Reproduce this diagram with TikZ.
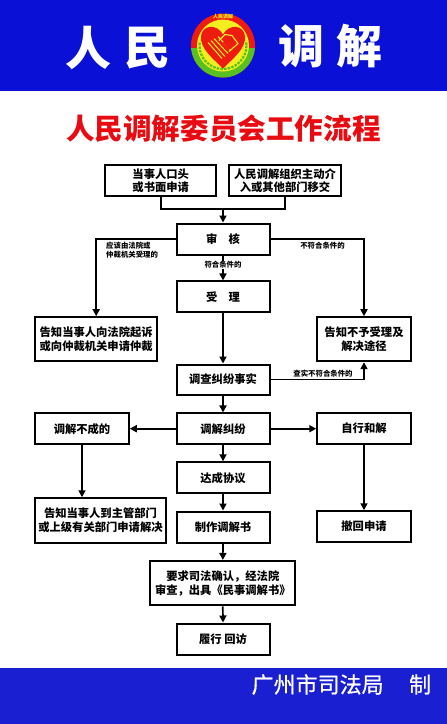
\documentclass[tikz,border=0pt]{standalone}
\usepackage{fontspec}
\setmainfont{Noto Sans CJK SC}
\usetikzlibrary{arrows.meta,calc}
\definecolor{hdrblue}{HTML}{0A10D6}
\definecolor{ftrblue}{HTML}{1A20D2}
\definecolor{ttlred}{HTML}{E80C12}
\definecolor{lgred}{HTML}{EE1C10}
\definecolor{lggreen}{HTML}{58C020}
\definecolor{lgyellow}{HTML}{F2EE20}
\tikzset{
  bx/.style={draw=black,line width=2pt,fill=white,align=center,inner sep=0pt,
    font=\bfseries\fontsize{11.3}{13.6}\selectfont},
  conn/.style={line width=1.7pt,draw=black},
  arr/.style={conn,-{Triangle[length=7pt,width=7pt]}},
  lbl/.style={font=\bfseries\fontsize{7.4}{8.6}\selectfont,inner sep=0.5pt},
  big/.style={white,font=\bfseries\fontsize{46}{46}\selectfont,inner sep=0pt},
}
\begin{document}
\begin{tikzpicture}[x=1pt,y=-1pt]
\useasboundingbox (0,0) rectangle (447,724);
\fill[white] (0,0) rectangle (447,724);
\fill[hdrblue] (0,0) rectangle (447,90.5);
\fill[ftrblue] (0,668) rectangle (447,724);

% header text
\node[big] (h1) at (88.5,47.5) {人};
\node[big] (h2) at (147.5,48) {民};
\node[big] (h3) at (301.5,46) {调};
\node[big] (h4) at (359.5,46) {解};

% emblem
\begin{scope}[shift={(223,45.5)}]
  \fill[lgred] (0,0) circle (32);
  \begin{scope}
    \clip (-33,3) rectangle (33,33);
    \fill[lggreen] (0,0) circle (32);
  \end{scope}
  \fill[lgyellow] (0,0) circle (26);
  \begin{scope}
    \clip (-27,-3) rectangle (27,27);
    \draw[lggreen,line width=2.2pt,dash pattern=on 2.5pt off 1.2pt] (0,0) circle (23.5);
  \end{scope}
  \fill[lgred] (0,23) .. controls (-10,13) and (-23,3) .. (-22,-9)
     .. controls (-21,-21) and (-6,-22) .. (0,-11)
     .. controls (6,-22) and (21,-21) .. (22,-9)
     .. controls (23,3) and (10,13) .. (0,23) -- cycle;
  \draw[lgyellow,line width=1pt] (-15,-3) -- (-1,13) (-12,-5) -- (2,11) (-9,-7) -- (5,8) (-5,-9) -- (8,5);
  \draw[lgyellow,line width=1.1pt] (-4,-5) -- (2,-11) -- (9,-10) -- (15,-2) -- (6,6);
  \fill[lgred] (5,-8) -- (13,-2) -- (6,4) -- (0,-3) -- cycle;
  \node[lgyellow,font=\bfseries\fontsize{5}{5}\selectfont,inner sep=0pt] (emb) at (0,-28.5) {人民调解};
\end{scope}

% title
\node[ttlred,font=\bfseries\fontsize{28.6}{30}\selectfont,inner sep=0pt] (title) at (223.5,128.5) {人民调解委员会工作流程};

% boxes
\node[bx,minimum width=111,minimum height=31] (a1) at (160.7,180.7) {当事人口头\\或书面申请};
\node[bx,minimum width=112,minimum height=31] (a2) at (285,180.7) {人民调解组织主动介\\入或其他部门移交};
\node[bx,minimum width=93,minimum height=31] (sh) at (223,239) {审　核};
\node[bx,minimum width=93,minimum height=30.5] (sl) at (223,296.7) {受　理};
\node[bx,minimum width=122,minimum height=44] (gz) at (96.2,339.2) {告知当事人向法院起诉\\或向仲裁机关申请仲裁};
\node[bx,minimum width=93.5,minimum height=44] (gb) at (364,339.2) {告知不予受理及\\解决途径};
\node[bx,minimum width=93,minimum height=30] (dc) at (223,379.5) {调查纠纷事实};
\node[bx,minimum width=93,minimum height=30.5] (tj) at (223,428.7) {调解纠纷};
\node[bx,minimum width=93.5,minimum height=30.5] (bc) at (82,428.7) {调解不成的};
\node[bx,minimum width=93.5,minimum height=30.5] (zx) at (364,428.7) {自行和解};
\node[bx,minimum width=93,minimum height=31] (dx) at (223,477.8) {达成协议};
\node[bx,minimum width=130.5,minimum height=44.5] (gs) at (100.5,520.5) {告知当事人到主管部门\\或上级有关部门申请解决};
\node[bx,minimum width=93,minimum height=31] (zz) at (223,527) {制作调解书};
\node[bx,minimum width=93.5,minimum height=30.5] (ch) at (364,526.5) {撤回申请};
\node[bx,minimum width=145,minimum height=44.5] (yq) at (222.8,583.2) {要求司法确认，经法院\\审查，出具《民事调解书》};
\node[bx,minimum width=93,minimum height=31] (lx) at (223,639) {履行 回访};

% footer
\node[white,font=\addfontfeature{FakeBold=0.6}\fontsize{22}{22}\selectfont,inner sep=0pt,anchor=west] (ft1) at (251.5,684.5) {广州市司法局};
\node[white,font=\addfontfeature{FakeBold=0.6}\fontsize{22}{22}\selectfont,inner sep=0pt,anchor=west] (ft2) at (409,684.5) {制};

% connectors
\coordinate (m) at (sh.north |- 0,209);
\draw[conn] (a1.south) |- (m);
\draw[conn] (a2.south) |- (m);
\draw[arr] (m) -- (sh.north);
\draw[arr] (sh.west) -| (gz.north);
\draw[arr] (sh.east) -| (gb.north);
\draw[arr] (sh.south) -- (sl.north);
\draw[arr] (sl.south) -- (dc.north);
\draw[arr] (dc.east) -| (gb.south);
\draw[arr] (dc.south) -- (tj.north);
\draw[arr] (tj.west) -- (bc.east);
\draw[arr] (tj.east) -- (zx.west);
\draw[arr] (tj.south) -- (dx.north);
\draw[arr] (bc.south) -- (bc.south |- gs.north);
\draw[arr] (zx.south) -- (ch.north);
\draw[arr] (dx.south) -- (zz.north);
\draw[arr] (zz.south) -- (yq.north);
\draw[arr] (yq.south) -- (lx.north);

% connector labels
\node[lbl,anchor=west,align=left] (l1) at (105.5,250) {应该由法院或\\仲裁机关受理的};
\node[lbl,fill=white] (l2) at (223,265) {符合条件的};
\node[lbl] (l3) at (322.5,245.7) {不符合条件的};
\node[lbl] (l4) at (323,373.5) {查实不符合条件的};
\end{tikzpicture}
\end{document}
